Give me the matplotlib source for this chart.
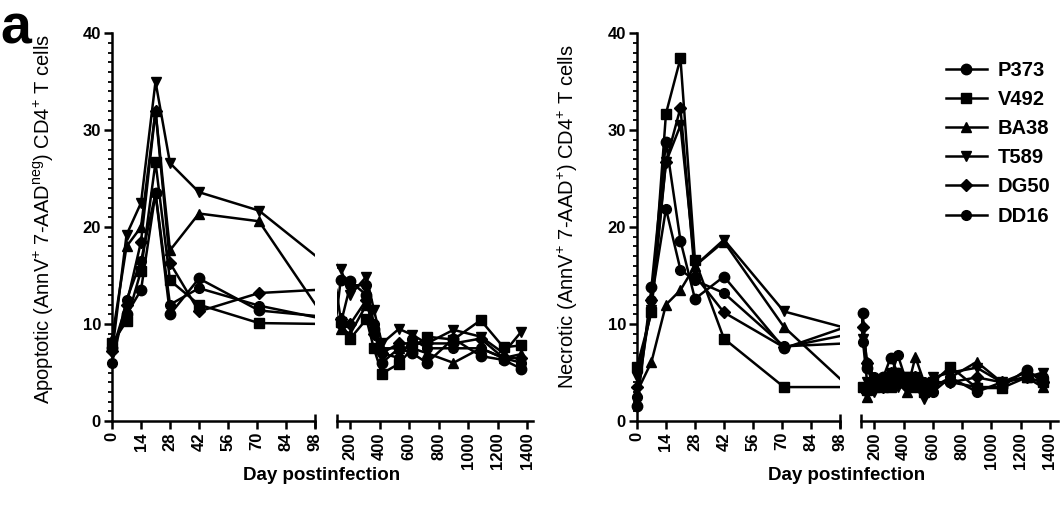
import numpy as np
import matplotlib
matplotlib.use("Agg")
import matplotlib.pyplot as plt
from matplotlib.lines import Line2D
from matplotlib.ticker import MultipleLocator

plt.rcParams["font.family"] = ["Liberation Sans", "DejaVu Sans"]
plt.rcParams["mathtext.default"] = "regular"

donors = ["P373", "V492", "BA38", "T589", "DG50", "DD16"]
donor_markers = ["o", "s", "^", "v", "D", "o"]
donor_msize = [7.5, 7.5, 7.5, 7.5, 6.5, 7.0]

early_days = [0, 7, 14, 21, 28, 42, 71]

# apoptotic (left panel)
apo_late_days = [105, 135, 200, 310, 360, 415, 530, 620, 720, 900, 1085, 1240, 1360]
apo_p373 = [7.5, 11.0, 13.5, 23.5, 11.0, 14.7, 11.4,
            10.7, 14.5, 14.4, 13.0, 9.5, 6.0, 7.5, 7.0, 6.0, 8.5, 6.7, 6.3, 5.4]
apo_v492 = [8.0, 10.3, 15.5, 26.7, 14.5, 12.0, 10.1,
            10.0, 10.2, 8.5, 10.5, 7.5, 4.9, 5.9, 7.5, 8.7, 8.4, 10.4, 7.6, 7.8]
apo_ba38 = [8.5, 18.0, 20.0, 32.0, 17.6, 21.4, 20.6,
            9.9, 9.5, 9.0, 12.0, 10.0, 7.5, 7.5, 7.5, 7.0, 6.0, 7.5, 6.5, 6.9]
apo_t589 = [7.0, 19.2, 22.5, 35.0, 26.6, 23.6, 21.7,
            15.9, 15.7, 13.0, 14.9, 11.5, 8.0, 9.5, 8.9, 8.0, 9.4, 8.7, 7.0, 9.2]
apo_dg50 = [7.2, 12.0, 18.5, 32.0, 16.3, 11.3, 13.2,
            13.6, 10.5, 10.0, 12.5, 9.0, 7.0, 8.0, 8.0, 8.0, 8.0, 8.5, 6.5, 6.5]
apo_dd16 = [6.0, 12.5, 16.5, 23.5, 12.0, 13.7, 11.9,
            10.4, 10.0, 14.0, 14.0, 10.0, 7.0, 6.5, 8.5, 7.5, 7.5, 7.5, 6.5, 6.0]

# necrotic (right panel)
nec_late_days = [120, 150, 200, 260, 310, 360, 420, 480, 540, 600, 720, 900, 1070, 1240, 1350]
nec_p373 = [1.5, 13.8, 28.8, 18.6, 12.6, 14.9, 7.5,
            11.1, 5.5, 3.5, 4.5, 6.5, 5.0, 4.0, 4.5, 3.5, 4.0, 4.0, 3.5, 3.5, 5.3, 4.0]
nec_v492 = [5.6, 11.2, 31.7, 37.4, 16.6, 8.5, 3.5,
            3.5, 3.2, 3.5, 4.0, 3.5, 4.0, 4.5, 3.5, 3.0, 4.0, 5.6, 3.4, 3.4, 4.5, 4.0]
nec_ba38 = [3.0, 6.1, 12.0, 13.5, 16.0, 18.5, 9.7,
            3.0, 2.5, 4.0, 3.5, 4.5, 4.0, 3.0, 6.6, 4.0, 3.5, 4.5, 6.1, 4.0, 4.5, 3.5]
nec_t589 = [4.5, 11.5, 26.7, 30.5, 16.0, 18.7, 11.3,
            8.5, 4.0, 3.0, 3.5, 5.0, 3.5, 4.5, 4.5, 2.3, 4.5, 5.0, 5.5, 4.0, 4.5, 5.0]
nec_dg50 = [3.5, 12.5, 26.7, 32.3, 15.0, 11.2, 7.6,
            9.7, 6.0, 4.0, 3.5, 5.0, 4.0, 3.5, 4.5, 3.0, 4.0, 4.0, 4.5, 4.0, 4.5, 4.0]
nec_dd16 = [2.5, 12.5, 21.9, 15.6, 14.5, 13.2, 7.7,
            8.2, 6.0, 4.5, 3.5, 4.5, 6.8, 4.0, 3.5, 4.0, 3.0, 4.5, 3.0, 4.0, 5.0, 4.5]
nec_ba38_first_day = 105

early_ticks = [0, 14, 28, 42, 56, 70, 84, 98]
late_ticks = [200, 400, 600, 800, 1000, 1200, 1400]

apo_label = r"Apoptotic (AnnV$^{+}$ 7-AAD$^{neg}$) CD4$^{+}$ T cells"
nec_label = r"Necrotic (AnnV$^{+}$ 7-AAD$^{+}$) CD4$^{+}$ T cells"

TICK_FS = 12


def series_days(late_days, first_late=None):
    days = list(early_days) + list(late_days)
    if first_late is not None:
        days[len(early_days)] = first_late
    return days


def draw(ax, days, vals, marker, ms, lo, hi):
    ax.plot(days, vals, color="black", lw=1.8)
    d = np.array(days)
    v = np.array(vals)
    keep = (d >= lo) & (d <= hi)
    ax.plot(d[keep], v[keep], ls="none", marker=marker, ms=ms,
            color="black", clip_on=False, zorder=3)


def style_early(ax):
    ax.set_xlim(0, 98)
    ax.set_ylim(0, 40)
    ax.spines["top"].set_visible(False)
    ax.spines["right"].set_visible(False)
    for s in ("left", "bottom"):
        ax.spines[s].set_linewidth(1.8)
    ax.set_xticks(early_ticks)
    ax.set_yticks([0, 10, 20, 30, 40])
    ax.yaxis.set_minor_locator(MultipleLocator(1))
    ax.tick_params(axis="both", which="major", length=6, width=1.8,
                   labelsize=TICK_FS, pad=2)
    ax.tick_params(axis="y", which="minor", length=3, width=1.3)
    ax.tick_params(axis="x", labelrotation=90)
    for t in ax.get_xticklabels() + ax.get_yticklabels():
        t.set_fontweight("bold")
    # end cap at the break
    ax.plot([1], [0], marker="|", ms=10, mew=1.8, color="black",
            transform=ax.transAxes, clip_on=False)


def style_late(ax, lo, hi):
    ax.set_xlim(lo, hi)
    ax.set_ylim(0, 40)
    for s in ("top", "right", "left"):
        ax.spines[s].set_visible(False)
    ax.spines["bottom"].set_linewidth(1.8)
    ax.set_yticks([])
    ax.set_xticks(late_ticks)
    ax.tick_params(axis="x", length=6, width=1.8, labelsize=TICK_FS, pad=2,
                   labelrotation=90)
    for t in ax.get_xticklabels():
        t.set_fontweight("bold")
    ax.plot([0], [0], marker="|", ms=10, mew=1.8, color="black",
            transform=ax.transAxes, clip_on=False)


fig = plt.figure(figsize=(10.62, 5.07), dpi=100)
bot, hgt = 0.1696, 0.765
ax_a1 = fig.add_axes([0.1055, bot, 0.191, hgt])
ax_a2 = fig.add_axes([0.3173, bot, 0.1846, hgt])
ax_n1 = fig.add_axes([0.5998, bot, 0.191, hgt])
ax_n2 = fig.add_axes([0.8107, bot, 0.1855, hgt])

apo_series = [apo_p373, apo_v492, apo_ba38, apo_t589, apo_dg50, apo_dd16]
nec_series = [nec_p373, nec_v492, nec_ba38, nec_t589, nec_dg50, nec_dd16]

apo_lo, apo_hi = 110, 1440
nec_lo, nec_hi = 108, 1455

for vals, m, ms in zip(apo_series, donor_markers, donor_msize):
    days = series_days(apo_late_days)
    draw(ax_a1, days, vals, m, ms, 0, 98)
    draw(ax_a2, days, vals, m, ms, apo_lo, apo_hi)

for name, vals, m, ms in zip(donors, nec_series, donor_markers, donor_msize):
    first = nec_ba38_first_day if name == "BA38" else None
    days = series_days(nec_late_days, first)
    draw(ax_n1, days, vals, m, ms, 0, 98)
    draw(ax_n2, days, vals, m, ms, nec_lo, nec_hi)

style_early(ax_a1)
style_late(ax_a2, apo_lo, apo_hi)
style_early(ax_n1)
style_late(ax_n2, nec_lo, nec_hi)

fig.text(0.041, 0.568, apo_label, rotation=90, ha="center", va="center", fontsize=14.5)
fig.text(0.535, 0.572, nec_label, rotation=90, ha="center", va="center", fontsize=14.5)
fig.text(0.303, 0.062, "Day postinfection", ha="center", va="center",
         fontsize=13.5, fontweight="bold")
fig.text(0.797, 0.062, "Day postinfection", ha="center", va="center",
         fontsize=13.5, fontweight="bold")
fig.text(0.0, 0.994, "a", ha="left", va="top", fontsize=40, fontweight="bold")

handles = [Line2D([], [], color="black", lw=1.8, marker=m, ms=ms)
           for m, ms in zip(donor_markers, donor_msize)]
fig.legend(handles, donors, loc="upper left", bbox_to_anchor=(0.874, 0.915),
           frameon=False, prop={"weight": "bold", "size": 14.5},
           handlelength=2.0, labelspacing=0.5, handletextpad=0.55)

fig.savefig("out.png", dpi=100)
